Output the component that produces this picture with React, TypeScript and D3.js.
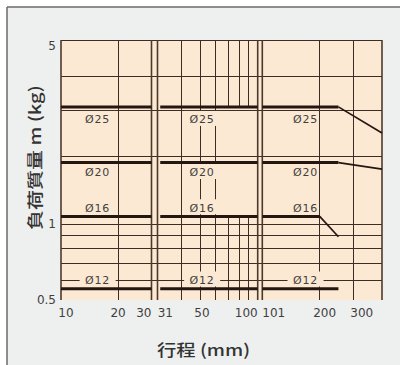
import React from 'react';
import * as d3 from 'd3';

// ---- data ----
const segDomains: [number, number][] = [[10, 30], [30, 100], [101, 420]];
const segGrid: number[][] = [[20], [40, 50, 60, 70, 80, 90], [200, 300]];
const seg2Sparse = [70, 80, 90];
const xTickValues = [10, 20, 30, 31, 50, 100, 101, 200, 300];
const xTickSeg = [0, 0, 0, 1, 1, 1, 2, 2, 2];
const yGrid = [0.6, 0.7, 0.8, 0.9, 1, 2, 3, 4];
const yTicks = [0.5, 1, 5];
const yBreaks = [0.5, 1, 2, 3, 4, 5];

const seriesNames = ['Ø25', 'Ø20', 'Ø16', 'Ø12'];
const phi25: [number, number][][] = [[[10, 3.08], [30, 3.08]], [[31, 3.08], [100, 3.08]], [[101, 3.08], [250, 3.08], [420, 2.45]]];
const phi20: [number, number][][] = [[[10, 1.87], [30, 1.87]], [[31, 1.87], [100, 1.87]], [[101, 1.87], [250, 1.87], [420, 1.75]]];
const phi16: [number, number][][] = [[[10, 1.08], [30, 1.08]], [[31, 1.08], [100, 1.08]], [[101, 1.08], [200, 1.08], [250, 0.89]]];
const phi12: [number, number][][] = [[[10, 0.554], [30, 0.554]], [[31, 0.554], [100, 0.554]], [[101, 0.554], [250, 0.554]]];
const seriesData = [phi25, phi20, phi16, phi12];
const labelAt = [15.6, 51.3, 169];
const labelValue = [2.76, 1.69, 1.18, 0.6];

// ---- layout ----
const W = 400, H = 365;
const P = { left: 61, right: 382, top: 40, bottom: 300 };
const segRanges: [number, number][] = [[61, 151.5], [157.5, 257.7], [262.3, 382]];
const xTickAnchor = ['middle', 'middle', 'end', 'start', 'middle', 'end', 'start', 'middle', 'middle'];
const xTickDx = [5, 0, 0, -2.5, 2, 0, 0, 5, 8];

const GRID = '#3e2c22';
const THICK = '#241611';
const PEACH = '#fce9d3';
const TXT = '#3f3f3f';

const crisp = (v: number) => Math.round(v - 0.5) + 0.5;

export default function App() {
  const xs = segDomains.map((d, i) => d3.scaleLog().domain(d).range(segRanges[i]));
  const y = d3.scaleLog().domain(yBreaks).range([300, 224, 156, 110, 76, 40]);

  const yTopBand = y(phi25[1][0][1]);
  const yBotBand = y(phi16[1][0][1]);

  const line = (s: d3.ScaleLogarithmic<number, number>) =>
    d3.line<[number, number]>().x(d => s(d[0])).y(d => y(d[1]));

  return (
    <svg width={W} height={H} style={{ position: 'absolute', left: 0, top: 0 }}>
      <rect x={0} y={0} width={W} height={H} fill="#ffffff" />
      <rect x={7} y={7} width={W - 7} height={H - 7} fill="#eeefef" />
      <line x1={7} y1={7} x2={W} y2={7} stroke="#6a6a6a" strokeWidth={1.5} />
      <line x1={7} y1={7} x2={7} y2={H} stroke="#6a6a6a" strokeWidth={1.5} />

      <rect x={P.left} y={P.top} width={P.right - P.left} height={P.bottom - P.top} fill={PEACH} />

      {/* horizontal gridlines */}
      {yGrid.map(v => (
        <line key={'h' + v} x1={P.left} x2={P.right} y1={crisp(y(v))} y2={crisp(y(v))} stroke={GRID} strokeWidth={1} />
      ))}
      <line x1={P.left} x2={P.right} y1={crisp(P.top)} y2={crisp(P.top)} stroke={GRID} strokeWidth={1.2} />

      {/* vertical gridlines */}
      {segGrid.map((vals, si) =>
        vals.map(v => {
          const x = crisp(xs[si](v));
          if (si === 1 && seg2Sparse.includes(v)) {
            return (
              <g key={'v' + si + v}>
                <line x1={x} x2={x} y1={P.top} y2={yTopBand} stroke={GRID} strokeWidth={1} />
                <line x1={x} x2={x} y1={yBotBand} y2={P.bottom} stroke={GRID} strokeWidth={1} />
              </g>
            );
          }
          return <line key={'v' + si + v} x1={x} x2={x} y1={P.top} y2={P.bottom} stroke={GRID} strokeWidth={1} />;
        })
      )}

      {/* segment borders */}
      {segRanges.map((r, i) => (
        <g key={'b' + i}>
          <line x1={r[0]} x2={r[0]} y1={P.top} y2={P.bottom} stroke="#4d392c" strokeWidth={1.6} />
          <line x1={r[1]} x2={r[1]} y1={P.top} y2={P.bottom} stroke="#4d392c" strokeWidth={1.6} />
        </g>
      ))}

      {/* label backgrounds and labels */}
      {seriesNames.map((name, k) =>
        labelAt.map((lv, si) => {
          const cx = xs[si](lv);
          const cy = y(labelValue[k]);
          const hasBg = si !== 2 || k === 3;
          return (
            <g key={'l' + k + si}>
              {hasBg && <rect x={cx - 18} y={cy - 8.5} width={36} height={15} fill={PEACH} />}
              <text x={cx} y={cy} dy="0.36em" textAnchor="middle" fontFamily="DejaVu Sans" fontSize={11}
                letterSpacing={0.8} fill={TXT}>{name}</text>
            </g>
          );
        })
      )}

      {/* series lines */}
      {seriesData.map((segs, k) =>
        segs.map((pts, si) => {
          let j = 1;
          while (j < pts.length && pts[j][1] === pts[0][1]) j++;
          const flat = pts.slice(0, j);
          const slope = pts.slice(j - 1);
          const g = line(xs[si]);
          return (
            <g key={'s' + k + si}>
              <path d={g(flat) || ''} fill="none" stroke={THICK} strokeWidth={3} />
              {slope.length > 1 && <path d={g(slope) || ''} fill="none" stroke={THICK} strokeWidth={1.7} />}
            </g>
          );
        })
      )}

      {/* y tick labels */}
      {yTicks.map(v => (
        <text key={'yt' + v} x={56} y={Math.max(y(v), P.top + 5.5)} dy="0.36em" textAnchor="end"
          fontFamily="DejaVu Sans" fontSize={12} fill={TXT}>{String(v)}</text>
      ))}

      {/* x tick labels */}
      {xTickValues.map((v, i) => (
        <text key={'xt' + i} x={xs[xTickSeg[i]](v) + xTickDx[i]} y={317} textAnchor={xTickAnchor[i] as any}
          fontFamily="DejaVu Sans" fontSize={12} fill={TXT}>{String(v)}</text>
      ))}

      {/* axis titles */}
      <text transform="translate(41,157.5) rotate(-90)" textAnchor="middle" fontFamily="Noto Sans CJK JP"
        fontSize={16} fontWeight={500} fill="#333" textLength={145} lengthAdjust="spacingAndGlyphs">負荷質量 m (kg)</text>
      <text x={203.5} y={356} textAnchor="middle" fontFamily="Noto Sans CJK JP"
        fontSize={16} fontWeight={500} fill="#333" textLength={93} lengthAdjust="spacingAndGlyphs">行程 (mm)</text>
    </svg>
  );
}
